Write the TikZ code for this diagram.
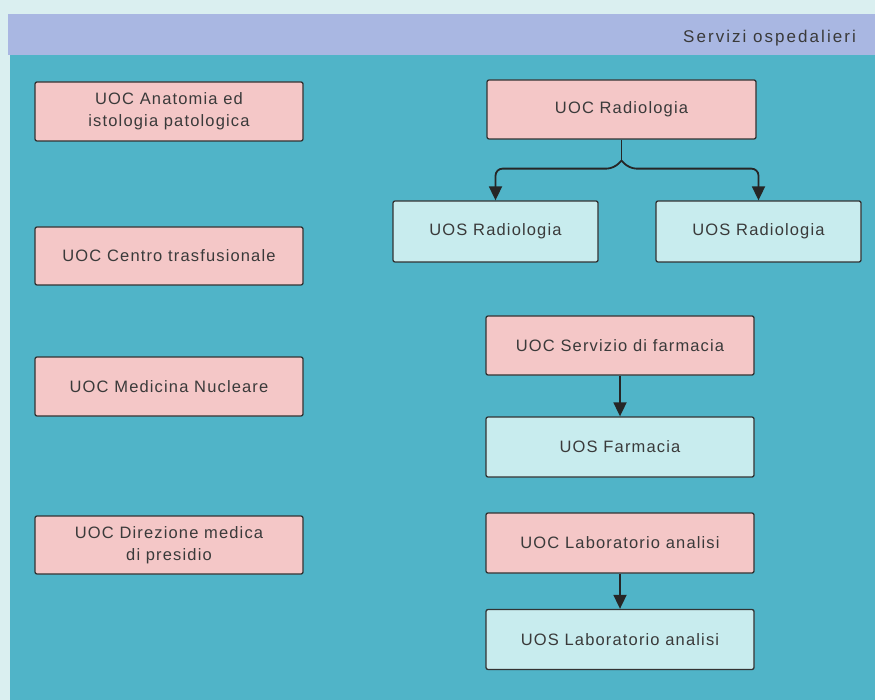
\documentclass[tikz,border=0pt]{standalone}
\usepackage{fontspec}
\setmainfont{Liberation Sans}[LetterSpace=7]
\newfontfamily\headfont{Liberation Sans}[LetterSpace=12]
\usetikzlibrary{arrows.meta, positioning}

\definecolor{pale}{HTML}{DAEFF0}
\definecolor{band}{HTML}{A9B7E2}
\definecolor{teal}{HTML}{50B4C8}
\definecolor{uocpink}{HTML}{F4C7C7}
\definecolor{uosblue}{HTML}{C8ECEE}
\definecolor{txt}{HTML}{3A3A3A}

\begin{document}
\begin{tikzpicture}[x = 1pt, y = -1pt,
  box/.style = {draw = black!80, line width = 1.3pt, rounded corners = 2pt,
    text = txt, align = center, font = \fontsize{16.5}{22}\selectfont,
    inner sep = 0pt},
  uoc/.style = {box, fill = uocpink, minimum width = 268pt, minimum height = 59pt},
  uos/.style = {box, fill = uosblue, minimum height = 60pt},
  conn/.style = {draw = black!85, line width = 1.8pt},
  arr/.style = {conn, -{Triangle[length = 14pt, width = 13pt]}}]
\useasboundingbox (0, 0) rectangle (875, 700);
\begin{scope}
\clip (0, 0) rectangle (875, 700);

%draw background
\fill[pale] (0, 0) rectangle (875, 700);
\fill[band] (8, 14) rectangle (875, 55);
\fill[teal] (10, 55) rectangle (875, 700);
\node[anchor = base west, text = txt, font = \headfont\fontsize{17}{20}\selectfont, inner sep = 0pt] (title) at (683, 43) {Servizi ospedalieri};

%left column
\node[uoc] (anat) at (169, 111.5) {UOC Anatomia ed\\istologia patologica};
\node[uoc, minimum height = 58pt] (centro) at (169, 256) {UOC Centro trasfusionale};
\node[uoc] (medic) at (169, 386.5) {UOC Medicina Nucleare};
\node[uoc, minimum height = 58pt] (direz) at (169, 545) {UOC Direzione medica\\di presidio};

%radiologia
\node[uoc, minimum width = 269pt] (rad) at (621.5, 109.5) {UOC Radiologia};
\node[uos, minimum width = 205pt, minimum height = 61pt] (uosradl) at (495.5, 231.5) {UOS Radiologia};
\node[uos, minimum width = 205pt, minimum height = 61pt] (uosradr) at (758.5, 231.5) {UOS Radiologia};

%farmacia and laboratorio
\node[uoc] (farm) at (620, 345.5) {UOC Servizio di farmacia};
\node[uos, minimum width = 268pt] (uosfarm) at (620, 447) {UOS Farmacia};
\node[uoc, minimum height = 60pt] (lab) at (620, 543) {UOC Laboratorio analisi};
\node[uos, minimum width = 268pt] (uoslab) at (620, 639.5) {UOS Laboratorio analisi};

%draw connectors
\draw[conn] (rad.south) -- ++(0, 21) coordinate (split);
\draw[arr, rounded corners = 7pt] (split) -- ++(-8, 8) -| (uosradl.north);
\draw[arr, rounded corners = 7pt] (split) -- ++(8, 8) -| (uosradr.north);
\draw[arr] (farm.south) -- (uosfarm.north);
\draw[arr] (lab.south) -- (uoslab.north);
\end{scope}
\end{tikzpicture}
\end{document}
